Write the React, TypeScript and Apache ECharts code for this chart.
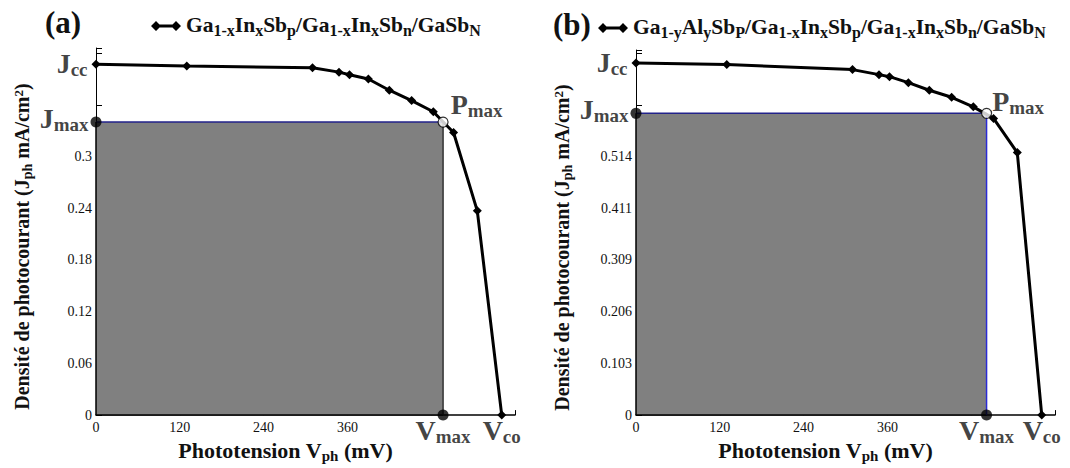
import React, { useEffect, useRef } from 'react';
import * as echarts from 'echarts';

const FONT = '"Liberation Serif", "Times New Roman", Times, serif';
const INK = '#111111';

// Data
const VOLTAGE_MV = [0, 130, 310, 348, 363, 390, 420, 452, 483, 512, 546, 581];
const CURRENT_A = [0.407, 0.405, 0.403, 0.398, 0.395, 0.39, 0.377, 0.365, 0.352, 0.328, 0.237, 0];
const CURRENT_B = [0.7, 0.697, 0.687, 0.677, 0.673, 0.661, 0.646, 0.632, 0.613, 0.59, 0.522, 0];
const PMAX_A = [497, 0.34];
const PMAX_B = [502, 0.6];
const X_SCALE = [0, 600, 120, 360]; // min, max, step, last labelled tick
const Y_SCALE_A = [0, 0.426, 0.06, 0.3];
const Y_SCALE_B = [0, 0.726, 0.10285, 0.514];
const PANEL_TAGS = ['(a)', '(b)'];
const SERIES_NAMES = ['Ga1-xInxSbp/Ga1-xInxSbn/GaSbN', 'Ga1-yAlySbP/Ga1-xInxSbp/Ga1-xInxSbn/GaSbN'];
const SERIES_RICH = [
  '{n|Ga}{s|1-x}{n|In}{s|x}{n|Sb}{s|p}{n|/Ga}{s|1-x}{n|In}{s|x}{n|Sb}{s|n}{n|/GaSb}{s|N}',
  '{n|Ga}{s|1-y}{n|Al}{s|y}{n|Sb}{s|P}{n|/Ga}{s|1-x}{n|In}{s|x}{n|Sb}{s|p}{n|/Ga}{s|1-x}{n|In}{s|x}{n|Sb}{s|n}{n|/GaSb}{s|N}',
];
const X_NAME = '{n|Phototension V}{s|ph}{n| (mV)}';
const Y_NAME = '{n|Densité de photocourant (J}{s|ph}{n| mA/cm}{p|2}{n|)}';

const markRich = {
  m: { fontFamily: FONT, fontSize: 28, fontWeight: 'bold', color: INK, verticalAlign: 'top' },
  s: { fontFamily: FONT, fontSize: 19, fontWeight: 'bold', color: INK, verticalAlign: 'top', padding: [10, 0, 0, 0] },
};

const LEGEND_ICON = 'path://M0,5L5,0L10,5L5,10Z M8,3.6L22,3.6L22,6.4L8,6.4Z M20,5L25,0L30,5L25,10Z';

function buildPanel(i: number, currents: number[], pmax: number[], yScale: number[], edgeColor: string) {
  const curve = VOLTAGE_MV.map((v, k) => [v, currents[k]]);
  const [vmax, jmax] = pmax;
  const jcc = currents[0];
  const vco = VOLTAGE_MV[VOLTAGE_MV.length - 1];
  const base = { xAxisIndex: i, yAxisIndex: i, silent: true };
  const series: any[] = [
    {
      ...base,
      type: 'line',
      data: [[0, jmax], [vmax, jmax]],
      symbol: 'none',
      lineStyle: { color: '#22228a', width: 1.5 },
      areaStyle: { color: '#808080', opacity: 1 },
      z: 1,
    },
    {
      ...base,
      type: 'line',
      data: [[0, jmax], [0, 0], [vmax, 0]],
      symbol: 'none',
      lineStyle: { color: '#000', width: 1.5 },
      z: 1,
    },
    {
      ...base,
      type: 'line',
      data: [[vmax, 0], [vmax, jmax]],
      symbol: 'none',
      lineStyle: { color: edgeColor, width: 1.5 },
      z: 1,
    },
    {
      ...base,
      name: SERIES_NAMES[i],
      type: 'line',
      data: curve,
      symbol: 'diamond',
      symbolSize: 9,
      lineStyle: { color: '#000', width: 3 },
      itemStyle: { color: '#000' },
      z: 3,
    },
    {
      ...base,
      type: 'scatter',
      z: 4,
      data: [
        {
          value: [0, jcc],
          symbolSize: 1,
          itemStyle: { color: 'rgba(0,0,0,0)' },
          label: { show: true, position: 'left', distance: 8, formatter: '{m|J}{s|cc}', rich: markRich },
        },
        {
          value: [0, jmax],
          symbolSize: 11,
          itemStyle: { color: '#000' },
          label: { show: true, position: 'left', distance: 2, offset: [0, -3], formatter: '{m|J}{s|max}', rich: markRich },
        },
        {
          value: [vmax, jmax],
          symbol: 'circle',
          symbolSize: 10,
          itemStyle: { color: '#fff', borderColor: '#000', borderWidth: 1.2 },
          label: {
            show: true,
            position: 'right',
            distance: i === 0 ? 2 : 0,
            offset: [0, i === 0 ? -17 : -11],
            formatter: '{m|P}{s|max}',
            rich: markRich,
          },
        },
        {
          value: [vmax, 0],
          symbolSize: 11,
          itemStyle: { color: '#000' },
          label: { show: true, position: 'bottom', distance: 0, offset: [0, -4], formatter: '{m|V}{s|max}', rich: markRich },
        },
        {
          value: [vco, 0],
          symbolSize: 1,
          itemStyle: { color: 'rgba(0,0,0,0)' },
          label: { show: true, position: 'bottom', distance: 1, formatter: '{m|V}{s|co}', rich: markRich },
        },
      ],
    },
  ];

  const xAxis = {
    gridIndex: i,
    type: 'value',
    min: X_SCALE[0],
    max: X_SCALE[1],
    interval: X_SCALE[2],
    axisLine: { lineStyle: { color: '#000', width: 1.5 } },
    axisTick: { inside: true, length: 5, lineStyle: { color: '#000' } },
    splitLine: { show: false },
    axisLabel: {
      formatter: (v: number) => (v <= X_SCALE[3] ? String(v) : ''),
      fontFamily: FONT,
      fontSize: 14,
      color: INK,
      margin: 5,
    },
    name: X_NAME,
    nameLocation: 'middle',
    nameGap: 22,
    nameTextStyle: {
      padding: [0, 40, 0, 0],
      rich: {
        n: { fontFamily: FONT, fontSize: 22, fontWeight: 'bold', color: INK, verticalAlign: 'top' },
        s: { fontFamily: FONT, fontSize: 15, fontWeight: 'bold', color: INK, verticalAlign: 'top', padding: [9, 0, 0, 0] },
      },
    },
  };

  const yAxis = {
    gridIndex: i,
    type: 'value',
    min: yScale[0],
    max: yScale[1],
    interval: yScale[2],
    axisLine: { lineStyle: { color: '#000', width: 1 } },
    axisTick: { inside: true, length: 6, lineStyle: { color: '#000' } },
    splitLine: { show: false },
    axisLabel: {
      formatter: (v: number) => {
        if (v > yScale[3] + 1e-3) return '';
        if (v === 0) return '0';
        return i === 0 ? String(parseFloat(v.toFixed(2))) : v.toFixed(3);
      },
      fontFamily: FONT,
      fontSize: 14,
      color: INK,
      margin: 4,
    },
    name: Y_NAME,
    nameLocation: 'middle',
    nameGap: 62,
    nameTextStyle: {
      padding: [0, 30, 0, 0],
      rich: {
        n: { fontFamily: FONT, fontSize: 20, fontWeight: 'bold', color: INK, verticalAlign: 'top' },
        s: { fontFamily: FONT, fontSize: 14, fontWeight: 'bold', color: INK, verticalAlign: 'top', padding: [8, 0, 0, 0] },
        p: { fontFamily: FONT, fontSize: 13, fontWeight: 'bold', color: INK, verticalAlign: 'top' },
      },
    },
  };

  return { series, xAxis, yAxis };
}

export default function App() {
  const ref = useRef<HTMLDivElement>(null);
  useEffect(() => {
    if (!ref.current) return;
    const chart = echarts.init(ref.current, undefined, { renderer: 'svg' });
    const a = buildPanel(0, CURRENT_A, PMAX_A, Y_SCALE_A, '#333333');
    const b = buildPanel(1, CURRENT_B, PMAX_B, Y_SCALE_B, '#2a2ad6');
    const legendRich = {
      n: { fontFamily: FONT, fontSize: 21.5, fontWeight: 'bold', color: INK, verticalAlign: 'top' },
      s: { fontFamily: FONT, fontSize: 16, fontWeight: 'bold', color: INK, verticalAlign: 'top', padding: [8, 0, 0, 0] },
    };
    chart.setOption({
      animation: false,
      backgroundColor: '#fff',
      title: [
        { text: PANEL_TAGS[0], left: 40, top: 2, textStyle: { fontFamily: FONT, fontSize: 31, fontWeight: 'bold', color: INK } },
        { text: PANEL_TAGS[1], left: 548, top: 4, textStyle: { fontFamily: FONT, fontSize: 31, fontWeight: 'bold', color: INK } },
      ],
      legend: [0, 1].map((i) => ({
        data: [SERIES_NAMES[i]],
        left: i === 0 ? 146 : 593,
        top: i === 0 ? 9 : 11,
        icon: LEGEND_ICON,
        itemWidth: 30,
        itemHeight: 10,
        itemGap: 4,
        selectedMode: false,
        formatter: () => SERIES_RICH[i],
        textStyle: { rich: legendRich, padding: [0, 0, 0, 0] },
      })),
      grid: [
        { left: 96, top: 48, width: 419, height: 371 },
        { left: 636, top: 50, width: 419, height: 370 },
      ],
      xAxis: [a.xAxis, b.xAxis],
      yAxis: [a.yAxis, b.yAxis],
      series: [...a.series, ...b.series],
    });
    return () => chart.dispose();
  }, []);
  return <div ref={ref} style={{ position: 'fixed', left: 0, top: 0, width: 1070, height: 468 }} />;
}
